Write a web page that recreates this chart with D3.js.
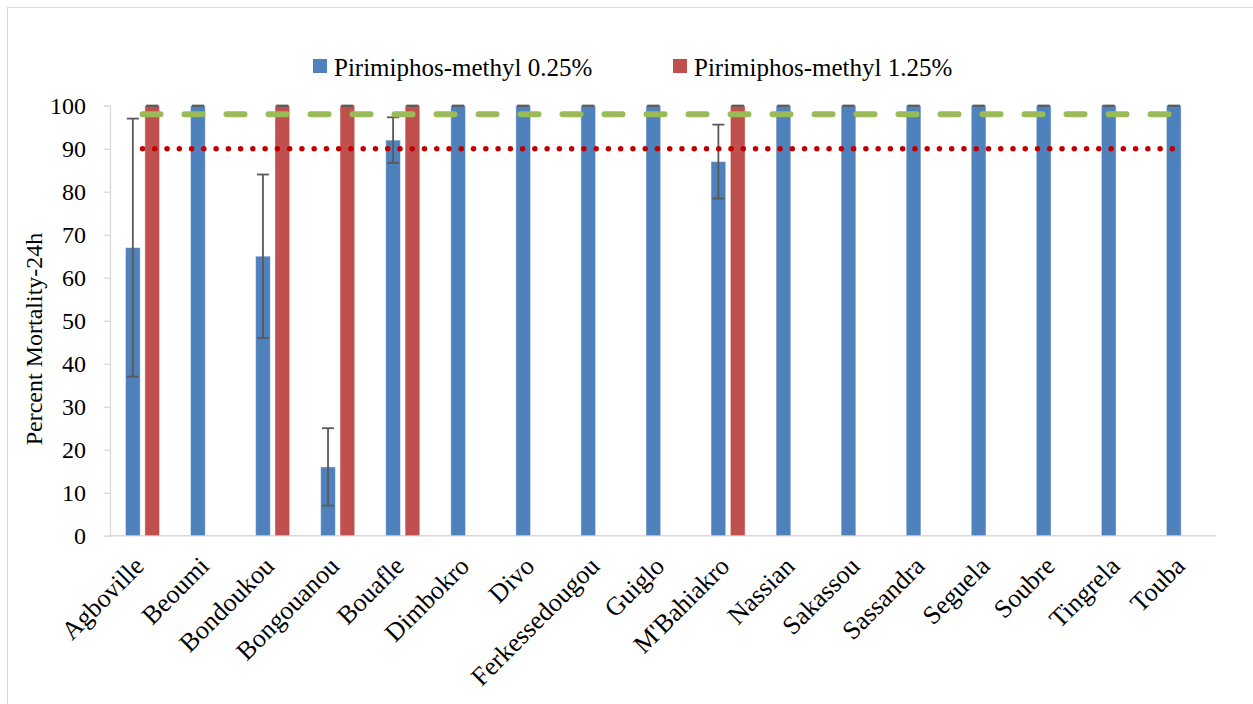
<!DOCTYPE html>
<html>
<head>
<meta charset="utf-8">
<script src="https://cdn.jsdelivr.net/npm/d3@7"></script>
<style>
  html, body { margin: 0; padding: 0; background: #fff; }
  svg text { font-family: "Liberation Serif", "DejaVu Serif", serif; fill: #000; }
</style>
</head>
<body>
<svg id="chart" width="1253" height="704"></svg>
<script>
// Sites tested
const categories = ["Agboville", "Beoumi", "Bondoukou", "Bongouanou", "Bouafle", "Dimbokro", "Divo",
  "Ferkessedougou", "Guiglo", "M'Bahiakro", "Nassian", "Sakassou", "Sassandra", "Seguela",
  "Soubre", "Tingrela", "Touba"];

// Percent mortality 24h, pirimiphos-methyl 0.25% (with +/- error)
const mortality025 = [67, 100, 65, 16, 92, 100, 100, 100, 100, 87, 100, 100, 100, 100, 100, 100, 100];
const error025     = [30, 0, 19, 9, 5.3, 0, 0, 0, 0, 8.6, 0, 0, 0, 0, 0, 0, 0];

// Percent mortality 24h, pirimiphos-methyl 1.25% (only tested at some sites)
const mortality125 = [100, null, 100, 100, 100, null, null, null, null, 100, null, null, null, null, null, null, null];
const error125     = [0, null, 0, 0, 0, null, null, null, null, 0, null, null, null, null, null, null, null];

const seriesNames = ["Pirimiphos-methyl 0.25%", "Pirimiphos-methyl 1.25%"];
const seriesColors = ["#4F81BD", "#C0504D"];

// Reference thresholds
const susceptibleThreshold = 98;
const resistanceThreshold = 90;

const yTicks = [0, 10, 20, 30, 40, 50, 60, 70, 80, 90, 100];
const yTitle = "Percent Mortality-24h";

const svg = d3.select("#chart");
const W = 1253, H = 704;
const plot = { left: 110, right: 1216, top: 105.7, bottom: 535.7 };

// outer chart border
svg.append("rect")
  .attr("x", 7.5).attr("y", 7.5)
  .attr("width", W).attr("height", H)
  .attr("fill", "none").attr("stroke", "#D9D9D9").attr("stroke-width", 1);

const x = d3.scaleBand().domain(categories).range([plot.left, plot.right]).padding(0);
const xs = d3.scaleBand().domain([0, 1]).range([0, x.bandwidth()]).paddingInner(0.24).paddingOuter(0.8);
const y = d3.scaleLinear().domain([0, 100]).range([plot.bottom, plot.top]);

// y axis
const yAxis = d3.axisLeft(y).tickValues(yTicks).tickSize(6).tickPadding(18).tickFormat(d3.format("d"));
const gy = svg.append("g").attr("transform", `translate(${plot.left},0)`).call(yAxis);
gy.attr("font-family", null);
gy.select(".domain").attr("stroke", "#D9D9D9").attr("stroke-width", 1.3);
gy.selectAll(".tick line").attr("stroke", "#D9D9D9").attr("stroke-width", 1.3);
gy.selectAll(".tick text").attr("font-size", 24).attr("fill", "#000").attr("dy", "0.34em");

// x axis baseline
svg.append("line")
  .attr("x1", plot.left).attr("x2", plot.right)
  .attr("y1", y(0)).attr("y2", y(0))
  .attr("stroke", "#D9D9D9").attr("stroke-width", 1.5);

// bars
const seriesData = [
  { values: mortality025, errors: error025 },
  { values: mortality125, errors: error125 }
];

seriesData.forEach((s, si) => {
  const rows = categories.map((c, i) => ({ c, v: s.values[i], e: s.errors[i] })).filter(d => d.v !== null);
  const g = svg.append("g");
  g.selectAll("rect").data(rows).join("rect")
    .attr("x", d => x(d.c) + xs(si))
    .attr("width", xs.bandwidth())
    .attr("y", d => y(d.v))
    .attr("height", d => y(0) - y(d.v))
    .attr("fill", seriesColors[si])
    .attr("stroke", "rgba(255,255,255,0.45)")
    .attr("stroke-width", 1);

  // error bars
  const eg = svg.append("g").attr("stroke", "#595959").attr("stroke-width", 1.8);
  const capW = 6;
  rows.forEach(d => {
    const cx = x(d.c) + xs(si) + xs.bandwidth() / 2;
    const hi = Math.min(100, d.v + d.e), lo = d.v - d.e;
    if (d.e > 0) {
      eg.append("line").attr("x1", cx).attr("x2", cx).attr("y1", y(hi)).attr("y2", y(lo));
    }
    eg.append("line").attr("x1", cx - capW).attr("x2", cx + capW).attr("y1", y(hi)).attr("y2", y(hi));
    eg.append("line").attr("x1", cx - capW).attr("x2", cx + capW).attr("y1", y(lo)).attr("y2", y(lo));
  });
});

// threshold lines across category centres
const xFirst = x(categories[0]) + x.bandwidth() / 2;
const xLast = x(categories[categories.length - 1]) + x.bandwidth() / 2;
const line = d3.line().x(d => d[0]).y(d => y(d[1]));

svg.append("path")
  .attr("d", line([[xFirst, susceptibleThreshold], [xLast, susceptibleThreshold]]))
  .attr("stroke", "#9BBB59").attr("stroke-width", 6)
  .attr("stroke-linecap", "round").attr("stroke-dasharray", "18 24")
  .attr("fill", "none");

svg.append("path")
  .attr("d", line([[xFirst, resistanceThreshold], [xLast, resistanceThreshold]]))
  .attr("stroke", "#C00000").attr("stroke-width", 5.5)
  .attr("stroke-linecap", "round").attr("stroke-dasharray", "0.01 12.25")
  .attr("fill", "none");

// category labels
svg.append("g").selectAll("text").data(categories).join("text")
  .attr("transform", d => `translate(${x(d) + x.bandwidth() / 2 + 3},${y(0) + 32}) rotate(-45)`)
  .attr("text-anchor", "end")
  .attr("font-size", 26)
  .text(d => d);

// y title
svg.append("text")
  .attr("transform", `translate(42,339) rotate(-90)`)
  .attr("text-anchor", "middle")
  .attr("font-size", 24)
  .text(yTitle);

// legend
const legendX = [313, 673];
const lg = svg.append("g");
seriesNames.forEach((n, i) => {
  lg.append("rect").attr("x", legendX[i]).attr("y", 59).attr("width", 14).attr("height", 14).attr("fill", seriesColors[i]);
  lg.append("text").attr("x", legendX[i] + 21).attr("y", 76).attr("font-size", 25).text(n);
});
</script>
</body>
</html>
